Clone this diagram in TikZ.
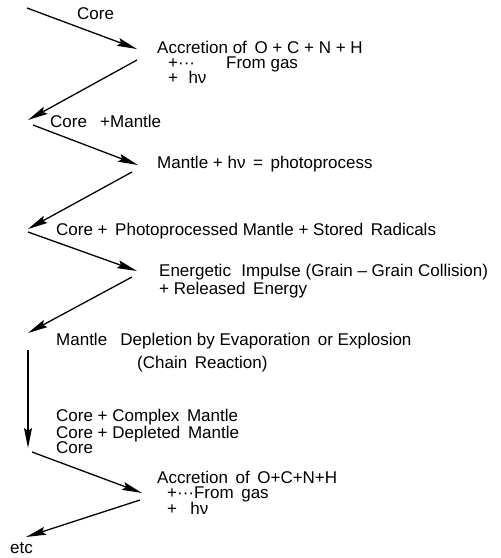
\documentclass[tikz,border=0pt]{standalone}
\usepackage{fontspec}
\setmainfont{Liberation Sans}
\usetikzlibrary{arrows.meta}
\newcommand\mytightlines{\setlength{\lineskiplimit}{-100pt}}
\tikzset{
  lbl/.style={anchor=base west, inner sep=0pt, align=left,
    font={\fontsize{17}{15}\selectfont\mytightlines}},
  flow/.style={line width=1.3pt, -{Stealth[length=20pt,width=8pt,inset=3pt]}},
}
\begin{document}
\begin{tikzpicture}[x=1pt,y=-1pt]
\useasboundingbox (0,0) rectangle (501,558);
% coordinates of connector ends
\coordinate (p1) at (27,8);   \coordinate (q1) at (137,49);
\coordinate (p2) at (137,60); \coordinate (q2) at (28,120);
\coordinate (p3) at (33,125); \coordinate (q3) at (138,165);
\coordinate (p4) at (132,172);\coordinate (q4) at (28,229);
\coordinate (p5) at (28,232); \coordinate (q5) at (137,271);
\coordinate (p6) at (132,277);\coordinate (q6) at (28,333);
\coordinate (p7) at (28,350); \coordinate (q7) at (28,448);
\coordinate (p8) at (32,452); \coordinate (q8) at (142,493);
\coordinate (p9) at (140,500);\coordinate (q9) at (26,537);
% texts (multi-line nodes are placed by the baseline of their last line)
\node[lbl] (t1) at (77,19) {Core};
\node[lbl] (a) at (157,83) {Accretion of\, O + C + N + H\\
  \hspace*{11pt}\makebox[58pt][l]{+···}From gas\\
  \hspace*{11pt}+\,\, hν};
\node[lbl] (c1) at (50,127) {Core\,\,\, +Mantle};
\node[lbl] (m1) at (157,168) {Mantle + hν\, = \,photoprocess};
\node[lbl] (c2) at (56,235) {Core +\, Photoprocessed Mantle + Stored\, Radicals};
\node[lbl] (e) at (159,294) {Energetic\,\, Impulse (Grain – Grain Collision)\\[3pt]
  + Released\, Energy};
\node[lbl] (d) at (56,368) {Mantle\,\,\, Depletion by Evaporation\, or Explosion\\[8pt]
  \hspace*{81pt}(Chain\, Reaction)};
\node[lbl] (k) at (56,453) {Core + Complex\, Mantle\\[2pt]
  Core + Depleted\, Mantle\\
  Core};
\node[lbl] (b) at (157,514) {Accretion\, of\, O+C+N+H\\
  \hspace*{10pt}+···From\, gas\\[1pt]
  \hspace*{10pt}+\,\,\, hν};
\node[lbl] (etc) at (10,553) {etc};
% connectors
\draw[flow] (p1) -- (q1);
\draw[flow] (p2) -- (q2);
\draw[flow] (p3) -- (q3);
\draw[flow] (p4) -- (q4);
\draw[flow] (p5) -- (q5);
\draw[flow] (p6) -- (q6);
\draw[flow] (p7) -- (q7);
\draw[flow] (p8) -- (q8);
\draw[flow] (p9) -- (q9);
\end{tikzpicture}
\end{document}
